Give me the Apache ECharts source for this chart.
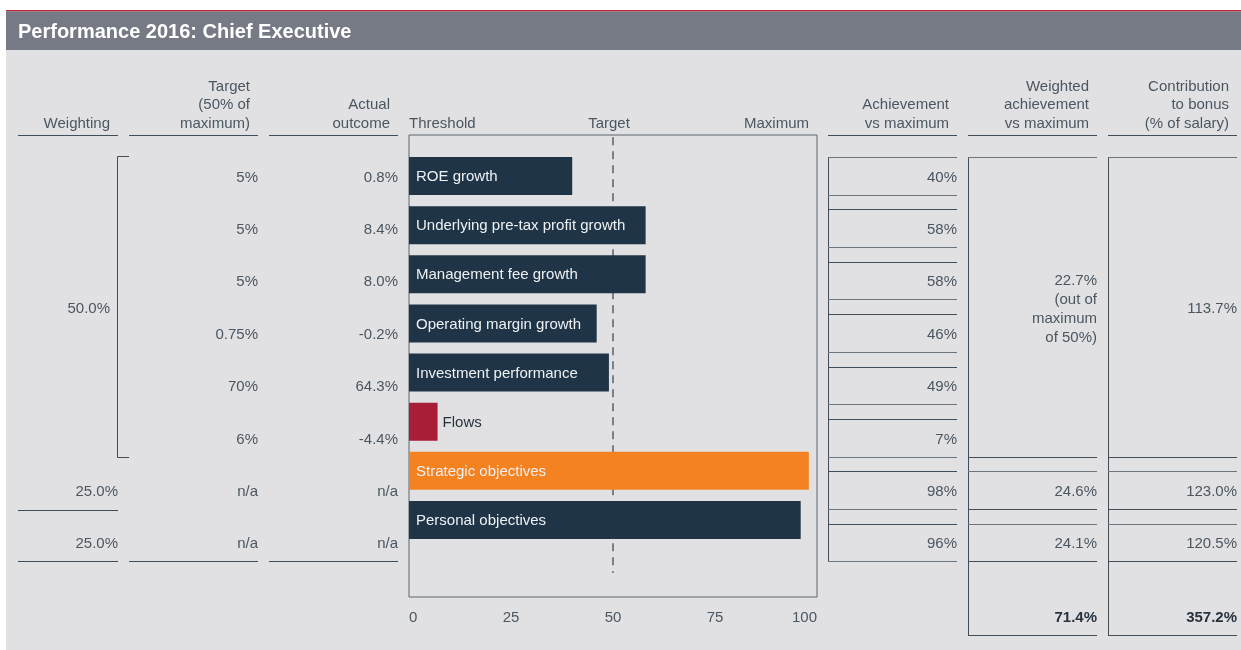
<!DOCTYPE html>
<html>
<head>
<meta charset="utf-8">
<title>Performance 2016: Chief Executive</title>
<script src="https://cdn.jsdelivr.net/npm/echarts@6/dist/echarts.min.js"></script>
<style>
  html, body { margin: 0; padding: 0; background: #ffffff; }
  #chart { width: 1241px; height: 650px; }
</style>
</head>
<body>
<div id="chart"></div>
<script>
// ---- data ----
const categories = [
  'ROE growth',
  'Underlying pre-tax profit growth',
  'Management fee growth',
  'Operating margin growth',
  'Investment performance',
  'Flows',
  'Strategic objectives',
  'Personal objectives'
];
const achievement = [40, 58, 58, 46, 49, 7, 98, 96];        // % of maximum
const targets = ['5%', '5%', '5%', '0.75%', '70%', '6%', 'n/a', 'n/a'];
const actuals = ['0.8%', '8.4%', '8.0%', '-0.2%', '64.3%', '-4.4%', 'n/a', 'n/a'];
const weightings = ['50.0%', '25.0%', '25.0%'];              // financial group, strategic, personal
const weightedAchievement = ['22.7%', '24.6%', '24.1%'];
const weightedTotal = '71.4%';
const bonusContribution = ['113.7%', '123.0%', '120.5%'];
const bonusTotal = '357.2%';
const targetLevel = 50;
const axisTicks = [0, 25, 50, 75, 100];
const columnHeaders = {
  weighting: 'Weighting',
  target: 'Target\n(50% of\nmaximum)',
  actual: 'Actual\noutcome',
  achievement: 'Achievement\nvs maximum',
  weighted: 'Weighted\nachievement\nvs maximum',
  contribution: 'Contribution\nto bonus\n(% of salary)'
};
const scaleLabels = ['Threshold', 'Target', 'Maximum'];
const title = 'Performance 2016: Chief Executive';

// ---- styles ----
const FONT = '"Liberation Sans", Arial, sans-serif';
const PANEL = '#e1e1e3';
const BAND = '#757a85';
const TXT = '#4b5661';
const TXT_DARK = '#26333f';
const LINE = '#414e5a';
const LINE_LIGHT = '#6b7680';
const NAVY = '#1f3446';
const barColors = { 'Flows': '#a91d37', 'Strategic objectives': '#f58220' };

// ---- table layout ----
const ROW0 = 177.5, ROW_STEP = 52.4;
const rowY = i => ROW0 + i * ROW_STEP;
const boxTop = i => Math.round(rowY(i) - 20.5) + 0.5;
const boxBot = i => Math.round(rowY(i) + 17) + 0.5;
const col = {
  weighting: [18, 118], target: [129, 258], actual: [269, 398],
  achievement: [828, 957], weighted: [968, 1097], contribution: [1108, 1237]
};
const HEADER_LINE = 135.5;
const TOTAL_Y = 618;
const TOTAL_LINE = 635.5;

const g = [];
function hline(x1, x2, y, color) {
  g.push({ type: 'line', silent: true, shape: { x1, y1: y, x2, y2: y }, style: { stroke: color || LINE, lineWidth: 1 } });
}
function vline(x, y1, y2, color) {
  g.push({ type: 'line', silent: true, shape: { x1: x, y1, x2: x, y2 }, style: { stroke: color || LINE, lineWidth: 1 } });
}
function label(str, x, y, o) {
  o = o || {};
  g.push({
    type: 'text', silent: true,
    style: {
      text: str, x, y,
      fill: o.fill || TXT,
      font: (o.weight || 'normal') + ' ' + (o.size || 15) + 'px ' + FONT,
      textAlign: o.align || 'right',
      textVerticalAlign: o.valign || 'middle',
      lineHeight: o.lh || 18.5
    }
  });
}

// page frame: white margin, red rule, title band
g.push({ type: 'rect', silent: true, z: -5, shape: { x: 0, y: 0, width: 1241, height: 10 }, style: { fill: '#ffffff' } });
g.push({ type: 'rect', silent: true, z: -5, shape: { x: 0, y: 0, width: 6, height: 650 }, style: { fill: '#ffffff' } });
g.push({ type: 'rect', silent: true, shape: { x: 6, y: 10, width: 1235, height: 1.5 }, style: { fill: '#b8283b' } });
g.push({ type: 'rect', silent: true, shape: { x: 6, y: 11.5, width: 1235, height: 38.5 }, style: { fill: BAND } });
label(title, 18, 32.5, { align: 'left', fill: '#ffffff', size: 20, weight: 'bold' });

// column headers
const HB = 133;
Object.keys(columnHeaders).forEach(k => {
  label(columnHeaders[k], col[k][1] - 8, HB, { valign: 'bottom' });
  hline(col[k][0], col[k][1], HEADER_LINE);
});
label(scaleLabels[0], 409, HB, { align: 'left', valign: 'bottom' });
label(scaleLabels[1], 609, HB, { align: 'center', valign: 'bottom' });
label(scaleLabels[2], 809, HB, { valign: 'bottom' });

// weighting column: bracket round the financial measures
const groupEnd = 5;
vline(117.5, 156.5, 457.5);
hline(117.5, 129, 156.5);
hline(117.5, 129, 457.5);
label(weightings[0], 110, 309);
label(weightings[1], 118, rowY(6));
label(weightings[2], 118, rowY(7));
hline(col.weighting[0], col.weighting[1], boxBot(6) + 1);
hline(col.weighting[0], col.weighting[1], boxBot(7));

// target / actual columns
categories.forEach((c, i) => {
  label(targets[i], col.target[1], rowY(i));
  label(actuals[i], col.actual[1], rowY(i));
});
hline(col.target[0], col.target[1], boxBot(7));
hline(col.actual[0], col.actual[1], boxBot(7));

// achievement column: one box per measure
vline(col.achievement[0] + 0.5, boxTop(0), boxBot(7));
categories.forEach((c, i) => {
  hline(col.achievement[0], col.achievement[1], boxTop(i), i === 0 ? LINE_LIGHT : LINE);
  hline(col.achievement[0], col.achievement[1], boxBot(i), LINE_LIGHT);
  label(achievement[i] + '%', col.achievement[1], rowY(i));
});

// weighted achievement and bonus contribution columns
[['weighted', weightedAchievement, weightedTotal, true],
 ['contribution', bonusContribution, bonusTotal, false]].forEach(([k, vals, total, outOfNote]) => {
  const [x1, x2] = col[k];
  vline(x1 + 0.5, boxTop(0), TOTAL_LINE);
  hline(x1, x2, boxTop(0), LINE_LIGHT);
  hline(x1, x2, boxBot(groupEnd), LINE);
  [6, 7].forEach(i => {
    hline(x1, x2, boxTop(i), LINE_LIGHT);
    hline(x1, x2, boxBot(i), LINE);
  });
  hline(x1, x2, TOTAL_LINE, LINE);
  if (outOfNote) {
    label(vals[0] + '\n(out of\nmaximum\nof 50%)', x2, 309, { lh: 19 });
  } else {
    label(vals[0], x2, 309);
  }
  label(vals[1], x2, rowY(6));
  label(vals[2], x2, rowY(7));
  label(total, x2, TOTAL_Y, { weight: 'bold', fill: TXT_DARK });
});

// ---- bar chart ----
const BAR_H = 38;
const barData = achievement.map((v, i) => [v, i]);

const chart = echarts.init(document.getElementById('chart'), null, { renderer: 'canvas' });
chart.setOption({
  backgroundColor: PANEL,
  animation: false,
  textStyle: { fontFamily: FONT },
  grid: {
    left: 409, right: 424, top: 135, bottom: 53,
    show: true, borderColor: '#59646e', borderWidth: 1, backgroundColor: 'transparent'
  },
  xAxis: {
    type: 'value', min: axisTicks[0], max: axisTicks[axisTicks.length - 1], interval: 25,
    axisLine: { show: false }, axisTick: { show: false }, splitLine: { show: false },
    axisLabel: { color: TXT, fontSize: 15, margin: 13, fontFamily: FONT,
                 alignMinLabel: 'left', alignMaxLabel: 'right' }
  },
  yAxis: {
    type: 'value', inverse: true, min: -0.834, max: 8.567, show: false
  },
  graphic: { elements: g },
  series: [
    {
      type: 'line',
      data: [[targetLevel, -0.79], [targetLevel, 8.08]],
      symbol: 'none', silent: true, z: 1,
      lineStyle: { color: '#55606b', width: 1.5, type: [8, 6] }
    },
    {
      type: 'custom',
      data: barData,
      z: 3,
      renderItem: function (params, api) {
        const v = api.value(0), i = api.value(1);
        const a = api.coord([0, i]);
        const b = api.coord([v, i]);
        const name = categories[i];
        const inside = v >= 30;
        return {
          type: 'group',
          children: [
            { type: 'rect', shape: { x: a[0], y: a[1] - BAR_H / 2, width: b[0] - a[0], height: BAR_H },
              style: { fill: barColors[name] || NAVY } },
            { type: 'text', style: {
                text: name,
                x: inside ? a[0] + 7 : b[0] + 5, y: a[1] + 1,
                fill: inside ? '#eef1f4' : TXT_DARK,
                font: '15px ' + FONT, textAlign: 'left', textVerticalAlign: 'middle' } }
          ]
        };
      }
    }
  ]
});
</script>
</body>
</html>
